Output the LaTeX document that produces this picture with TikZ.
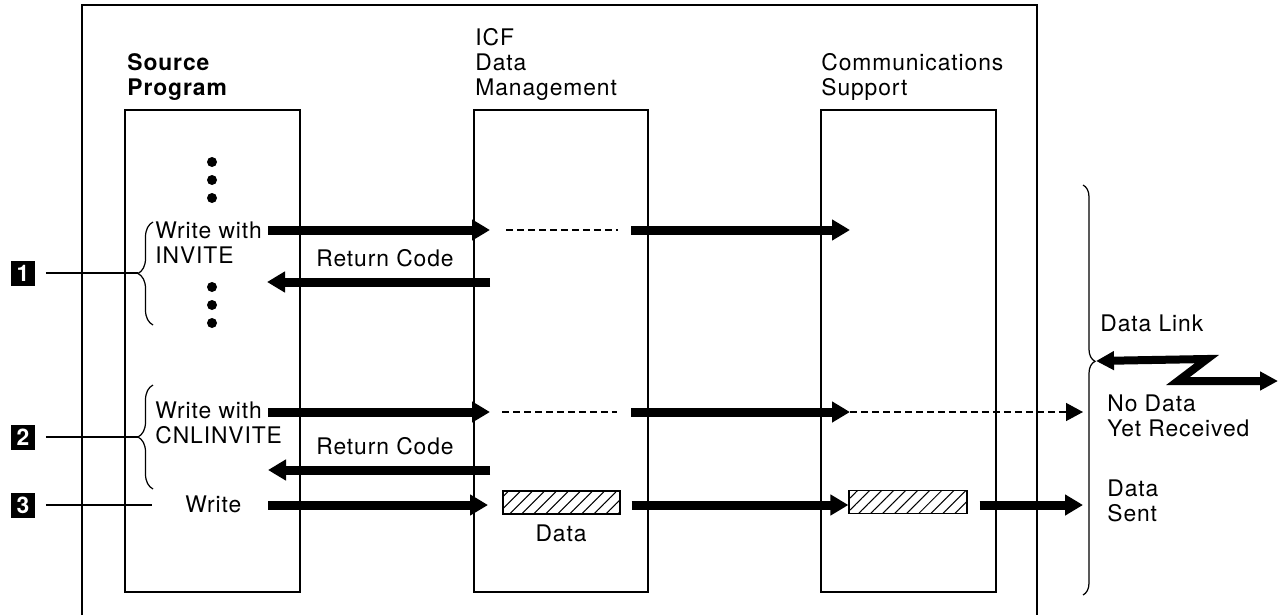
\documentclass[tikz,border=0pt]{standalone}
\usepackage{fontspec}
\setmainfont{TeX Gyre Heros}[LetterSpace=4]
\usetikzlibrary{arrows.meta,decorations.pathreplacing,patterns.meta,positioning,calc}

\begin{document}
\begin{tikzpicture}[
  x=0.02cm, y=-0.02cm,
  >={Triangle[length=0.36cm,width=0.4cm]},
  every node/.style={font=\fontsize{13}{14.2}\selectfont, inner sep=0pt, align=left},
  flow/.style={->, line width=0.18cm},
  wait/.style={line width=0.8pt, dash pattern=on 0.14cm off 0.08cm},
  lane/.style={draw, line width=0.7pt},
  title/.style={anchor=base west},
  tag/.style={fill=black, text=white, font=\fontsize{13}{13}\bfseries, minimum size=0.5cm},
  grp/.style={decorate, decoration={brace, amplitude=0.3cm}, line width=0.7pt},
  buf/.style={draw, line width=0.7pt, minimum height=0.46cm,
    pattern={Lines[angle=45, distance=0.17cm, line width=0.6pt]}},
  dot/.style={circle, fill=black, minimum size=0.2cm}
]
\useasboundingbox (0,0) rectangle (1280,615);

% ---- frame and lanes ----
\draw[lane] (82,615) |- (1037,5) -- (1037,615);
\node[lane, minimum width=3.5cm, minimum height=9.64cm] (src) at (212.5,351) {};
\node[lane, minimum width=3.48cm, minimum height=9.64cm] (icf) at (561,351) {};
\node[lane, minimum width=3.5cm, minimum height=9.64cm] (com) at (908.5,351) {};

% (base = last line)
\node[title] (srcT) at (127,95) {\bfseries Source\\\bfseries Program};
\node[title] (icfT) at (475,95) {ICF\\Data\\Management};
\node[title] (comT) at (821,95) {Communications\\Support};

\foreach \y in {162,180,198,287,305,323}
  \node[dot] (d\y) at (212,\y) {};

% ---- source program texts ----
\node[anchor=base west] (w1) at (155,263) {Write with\\INVITE};
\node[anchor=base west] (rc1) at (316,266) {Return Code};
\node[anchor=base west] (w2) at (155,443) {Write with\\CNLINVITE};
\node[anchor=base west] (rc2) at (316,454) {Return Code};
\node[anchor=base west] (w3) at (185,512) {Write};

% ---- data buffers ----
\node[buf, minimum width=2.34cm] (buf1) at (561.5,502.5) {};
\node[anchor=base] (dat) at (561,541) {Data};
\node[buf, minimum width=2.36cm] (buf2) at (908,502) {};

% ---- tags and braces ----
\node[tag] (t1) at (23,273) {1};
\node[tag] (t2) at (23,437) {2};
\node[tag] (t3) at (23,505) {3};

\draw[grp] (153,325) -- (153,222);
\draw[grp] (153,489) -- (153,385);
\coordinate (b1) at (138,273);
\coordinate (b2) at (138,437);
\draw[line width=0.6pt, shorten <=0.2cm] (t1) -- (b1);
\draw[line width=0.6pt, shorten <=0.2cm] (t2) -- (b2);
\draw[line width=0.6pt, shorten <=0.2cm, shorten >=0.66cm] (t3) -- (t3 -| w3.west);

% ---- row 1: write with invite ----
\coordinate (o1) at (268,230);
\coordinate (i1) at (490,230);
\coordinate (m1a) at (506,230);
\coordinate (m1b) at (618,230);
\coordinate (p1) at (631,230);
\coordinate (c1) at (850,230);
\draw[flow] (o1) -- (i1);
\draw[wait] (m1a) -- (m1b);
\draw[flow] (p1) -- (c1);
\coordinate (r1a) at (490,282);
\coordinate (r1b) at (267,282);
\draw[flow] (r1a) -- (r1b);

% ---- row 2: write with cnlinvite ----
\coordinate (o2) at (268,412);
\coordinate (i2) at (490,412);
\coordinate (m2a) at (502,412);
\coordinate (m2b) at (617,412);
\coordinate (p2) at (631,412);
\coordinate (c2) at (850,412);
\coordinate (l2) at (1083,412);
\draw[flow] (o2) -- (i2);
\draw[wait] (m2a) -- (m2b);
\draw[flow] (p2) -- (c2);
\draw[wait, -{Triangle[length=0.34cm,width=0.36cm]}] (c2) -- (l2);
\coordinate (r2a) at (490,470);
\coordinate (r2b) at (268,470);
\draw[flow] (r2a) -- (r2b);

% ---- row 3: write ----
\coordinate (o3) at (268,505);
\coordinate (i3) at (488,505);
\coordinate (l3) at (1083,505);
\draw[flow] (o3) -- (i3);
\draw[flow, shorten <=0.22cm] (buf1.east |- o3) -- (buf2.west |- o3);
\draw[flow, shorten <=0.24cm] (buf2.east |- o3) -- (l3);

% ---- data link ----
\draw[grp, decoration={brace, amplitude=0.24cm, aspect=0.43}] (1083,185) -- (1083,595);
\coordinate (dl) at (1096,361);
\coordinate (dr) at (1278,381);
\node[anchor=base west] (lnk) at (1100,331) {Data Link};
\node[anchor=base west] (nodat) at (1107,436) {No Data\\Yet Received};
\node[anchor=base west] (sent) at (1107,521) {Data\\Sent};
\draw[line width=0.16cm, line join=miter,
  {Triangle[length=0.36cm,width=0.36cm]}-{Triangle[length=0.36cm,width=0.36cm]}]
  (dl) -- (1207,359) -- (1178,381) -- (dr);

\end{tikzpicture}
\end{document}
